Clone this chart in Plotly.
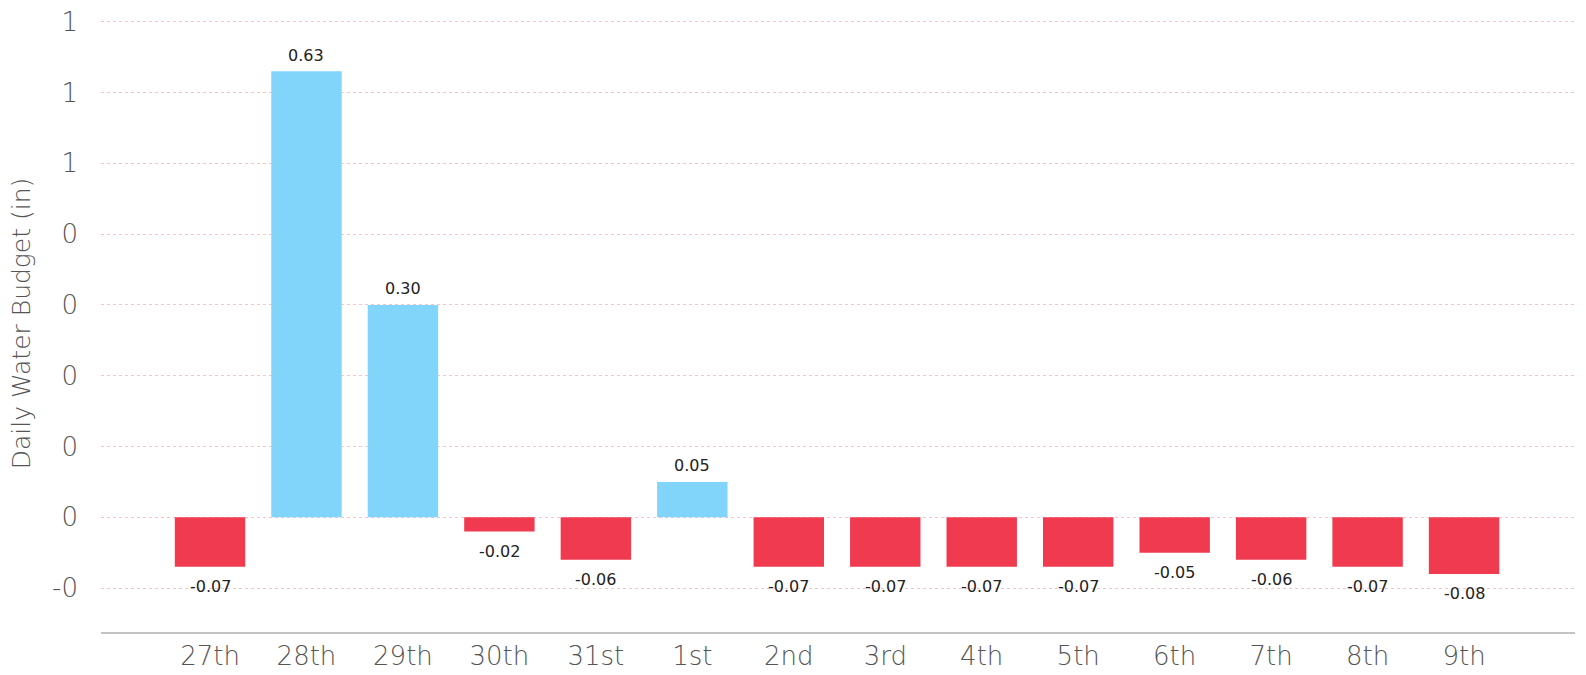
import plotly.graph_objects as go

days = ["27th", "28th", "29th", "30th", "31st", "1st", "2nd", "3rd", "4th", "5th", "6th", "7th", "8th", "9th"]
budget = [-0.07, 0.63, 0.30, -0.02, -0.06, 0.05, -0.07, -0.07, -0.07, -0.07, -0.05, -0.06, -0.07, -0.08]
ytick_vals = [-0.1, 0.0, 0.1, 0.2, 0.3, 0.4, 0.5, 0.6, 0.7]
ytick_text = ["-0", "0", "0", "0", "0", "0", "1", "1", "1"]

BLUE = "#81D4FA"
RED = "#F03A4F"
colors = [BLUE if v >= 0 else RED for v in budget]

fig = go.Figure()
fig.add_trace(go.Bar(
    x=list(range(len(days))), y=budget, marker=dict(color=colors, line=dict(width=0)),
    width=0.73, hoverinfo="x+y",
))

for i, v in enumerate(budget):
    fig.add_annotation(
        x=i, y=v, text=f"{v:.2f}", showarrow=False,
        yshift=16 if v >= 0 else -20, yanchor="middle",
        font=dict(family="DejaVu Sans", size=16, color="#222"),
    )

fig.update_layout(
    width=1586, height=675,
    margin=dict(l=101, r=11, t=15, b=43),
    paper_bgcolor="white", plot_bgcolor="white",
    showlegend=False,
)
fig.update_xaxes(
    tickmode="array", tickvals=list(range(len(days))), ticktext=days,
    range=[-1.13, 14.15], automargin=False,
    showgrid=False, zeroline=False,
    showline=True, linecolor="#c4c4c4", linewidth=1.5,
    ticks="", ticklabelstandoff=0, ticklabeloverflow="allow",
    tickfont=dict(family="DejaVu Sans", size=26, color="#555", weight=300),
)
fig.update_yaxes(
    range=[-0.162, 0.7095], automargin=False,
    tickmode="array", tickvals=ytick_vals, ticktext=ytick_text,
    showgrid=True, gridcolor="#f7c3c9", gridwidth=1, griddash="3px,3px",
    zeroline=False, showline=False, ticks="", ticklabelstandoff=22,
    ticklabeloverflow="allow",
    tickfont=dict(family="DejaVu Sans", size=26, color="#555", weight=300),
    title=dict(text="Daily Water Budget (in)", font=dict(family="DejaVu Sans", size=25, color="#555", weight=300), standoff=14),
)

fig.write_html(
    "out.html",
    config={"displayModeBar": False},
    post_script="document.body.style.margin='0';document.body.style.overflow='hidden';",
)
